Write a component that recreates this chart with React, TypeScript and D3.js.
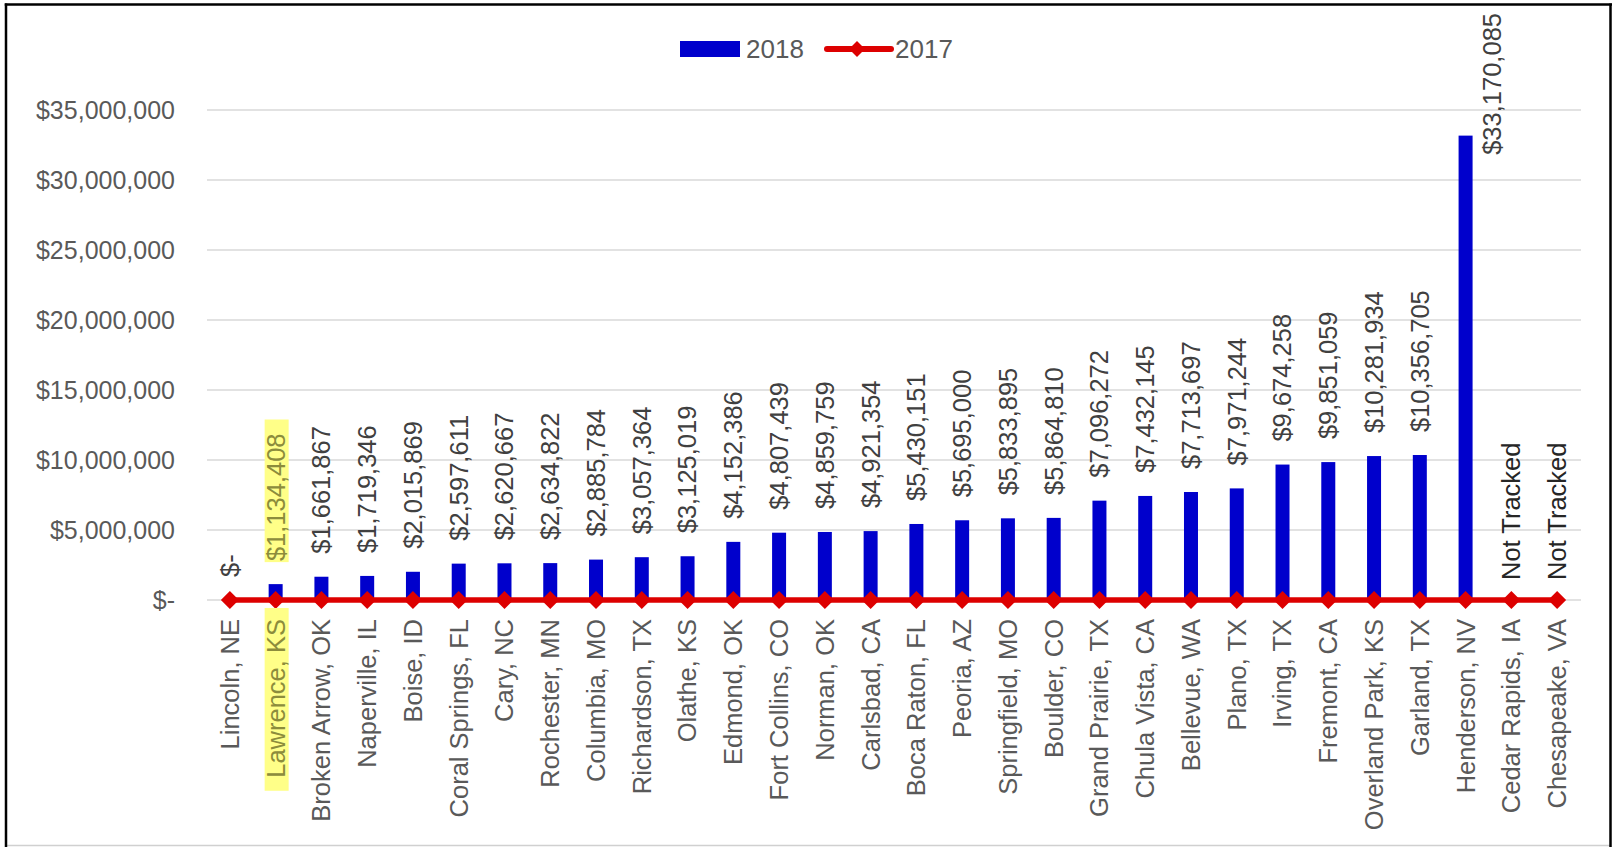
import React, { useEffect, useRef } from 'react';
import * as d3 from 'd3';

const categories: string[] = [
  'Lincoln, NE', 'Lawrence, KS', 'Broken Arrow, OK', 'Naperville, IL', 'Boise, ID',
  'Coral Springs, FL', 'Cary, NC', 'Rochester, MN', 'Columbia, MO', 'Richardson, TX',
  'Olathe, KS', 'Edmond, OK', 'Fort Collins, CO', 'Norman, OK', 'Carlsbad, CA',
  'Boca Raton, FL', 'Peoria, AZ', 'Springfield, MO', 'Boulder, CO', 'Grand Prairie, TX',
  'Chula Vista, CA', 'Bellevue, WA', 'Plano, TX', 'Irving, TX', 'Fremont, CA',
  'Overland Park, KS', 'Garland, TX', 'Henderson, NV', 'Cedar Rapids, IA', 'Chesapeake, VA',
];

// 2018 values (null = "Not Tracked")
const values2018: (number | null)[] = [
  0, 1134408, 1661867, 1719346, 2015869,
  2597611, 2620667, 2634822, 2885784, 3057364,
  3125019, 4152386, 4807439, 4859759, 4921354,
  5430151, 5695000, 5833895, 5864810, 7096272,
  7432145, 7713697, 7971244, 9674258, 9851059,
  10281934, 10356705, 33170085, null, null,
];

const values2017: number[] = [
  0, 0, 0, 0, 0, 0, 0, 0, 0, 0,
  0, 0, 0, 0, 0, 0, 0, 0, 0, 0,
  0, 0, 0, 0, 0, 0, 0, 0, 0, 0,
];

const yTicks: number[] = [0, 5000000, 10000000, 15000000, 20000000, 25000000, 30000000, 35000000];
const highlighted: string[] = ['Lawrence, KS'];
const seriesNames: string[] = ['2018', '2017'];
const notTrackedText = 'Not Tracked';

const BLUE = '#0000CC';
const RED = '#DD0000';
const GRAY_TEXT = '#595959';
const FONT = '"Liberation Sans", Arial, sans-serif';

const fmtMoney = (v: number) => (v === 0 ? '$-' : '$' + d3.format(',')(v));

export default function App() {
  const ref = useRef<SVGSVGElement>(null);

  useEffect(() => {
    const svg = d3.select(ref.current!);
    svg.selectAll('*').remove();
    const W = 1617;
    const H = 847;

    svg.append('rect').attr('x', 0).attr('y', 0).attr('width', W).attr('height', H).attr('fill', '#fff');

    const x = d3.scaleBand<string>().domain(categories).range([207, 1580]).paddingInner(0).paddingOuter(0);
    const y = d3.scaleLinear().domain([0, 35000000]).range([600, 110]);
    const cx = (c: string) => (x(c) as number) + x.bandwidth() / 2;

    // gridlines
    svg.append('g').selectAll('line').data(yTicks).join('line')
      .attr('x1', 207).attr('x2', 1581)
      .attr('y1', (d) => y(d)).attr('y2', (d) => y(d))
      .attr('stroke', '#D9D9D9').attr('stroke-width', 1.6);

    // y-axis labels
    svg.append('g').selectAll('text').data(yTicks).join('text')
      .attr('x', 175).attr('y', (d) => y(d)).attr('dy', '0.35em')
      .attr('text-anchor', 'end')
      .attr('font-family', FONT).attr('font-size', 25).attr('fill', GRAY_TEXT)
      .text((d) => fmtMoney(d));

    // bars
    const barW = 14;
    const barData = categories.map((c, i) => ({ c, v: values2018[i] })).filter((d) => d.v !== null && (d.v as number) > 0);
    svg.append('g').selectAll('rect').data(barData).join('rect')
      .attr('x', (d) => cx(d.c) - barW / 2)
      .attr('y', (d) => y(d.v as number))
      .attr('width', barW)
      .attr('height', (d) => y(0) - y(d.v as number))
      .attr('fill', BLUE);

    // 2017 line
    const pts: [number, number][] = categories.map((c, i) => [cx(c), y(values2017[i])]);
    svg.append('path').attr('d', d3.line()(pts) as string)
      .attr('fill', 'none').attr('stroke', RED).attr('stroke-width', 5.5);
    const diamond = (s: number) => `M0,${-s}L${s},0L0,${s}L${-s},0Z`;
    svg.append('g').selectAll('path').data(pts).join('path')
      .attr('transform', (d) => `translate(${d[0]},${d[1]})`)
      .attr('d', diamond(9)).attr('fill', RED);

    // value labels
    const labelG = svg.append('g');
    categories.forEach((c, i) => {
      const v = values2018[i];
      const isNT = v === null;
      const txt = isNT ? notTrackedText : fmtMoney(v as number);
      const base = y(isNT ? 0 : (v as number));
      let ay = base - (isNT ? 20 : 23);
      let ax = cx(c);
      const hl = highlighted.includes(c);
      const t = labelG.append('text')
        .attr('text-anchor', 'start').attr('dy', '0.35em')
        .attr('font-family', FONT).attr('font-size', 25.5)
        .attr('fill', isNT ? '#262626' : hl ? '#8C8C3C' : '#404040')
        .text(txt);
      const len = (t.node() as SVGTextElement).getComputedTextLength();
      if (ay - len < 13) {
        ay = 13 + len;
        ax = ax + 26;
      }
      t.attr('transform', `translate(${ax},${ay}) rotate(-90)`);
      if (hl) {
        labelG.insert('rect', () => t.node() as any)
          .attr('x', ax - 11).attr('width', 24)
          .attr('y', ay - len - 14).attr('height', len + 15)
          .attr('fill', '#FFFF88');
      }
    });

    // category labels
    const catG = svg.append('g');
    categories.forEach((c) => {
      const hl = highlighted.includes(c);
      const t = catG.append('text')
        .attr('transform', `translate(${cx(c)},619) rotate(-90)`)
        .attr('text-anchor', 'end').attr('dy', '0.35em')
        .attr('font-family', FONT).attr('font-size', 25.5)
        .attr('fill', hl ? '#8C8C3C' : GRAY_TEXT)
        .text(c);
      if (hl) {
        const len = (t.node() as SVGTextElement).getComputedTextLength();
        catG.insert('rect', () => t.node() as any)
          .attr('x', cx(c) - 11).attr('width', 24)
          .attr('y', 608).attr('height', len + 24)
          .attr('fill', '#FFFF88');
      }
    });

    // legend
    const lg = svg.append('g');
    lg.append('rect').attr('x', 680).attr('y', 41).attr('width', 60).attr('height', 16).attr('fill', BLUE);
    lg.append('text').attr('x', 746).attr('y', 49).attr('dy', '0.35em')
      .attr('font-family', FONT).attr('font-size', 26).attr('fill', GRAY_TEXT).text(seriesNames[0]);
    lg.append('line').attr('x1', 827).attr('x2', 891).attr('y1', 49).attr('y2', 49)
      .attr('stroke', RED).attr('stroke-width', 6).attr('stroke-linecap', 'round');
    lg.append('path').attr('transform', 'translate(857,49)').attr('d', diamond(8)).attr('fill', RED);
    lg.append('text').attr('x', 895).attr('y', 49).attr('dy', '0.35em')
      .attr('font-family', FONT).attr('font-size', 26).attr('fill', GRAY_TEXT).text(seriesNames[1]);

    // frame
    svg.append('line').attr('x1', 6).attr('x2', 1611).attr('y1', 845.5).attr('y2', 845.5)
      .attr('stroke', '#D0D0D0').attr('stroke-width', 1.5);
    svg.append('line').attr('x1', 6).attr('x2', 6).attr('y1', 3.5).attr('y2', 847)
      .attr('stroke', '#000').attr('stroke-width', 2.5);
    svg.append('line').attr('x1', 4.75).attr('x2', 1612).attr('y1', 4.5).attr('y2', 4.5)
      .attr('stroke', '#000').attr('stroke-width', 2.5);
    svg.append('line').attr('x1', 1610.5).attr('x2', 1610.5).attr('y1', 3.5).attr('y2', 847)
      .attr('stroke', '#000').attr('stroke-width', 2.5);
  }, []);

  return (
    <svg
      ref={ref}
      width={1617}
      height={847}
      style={{ position: 'absolute', left: 0, top: 0, display: 'block' }}
    />
  );
}
